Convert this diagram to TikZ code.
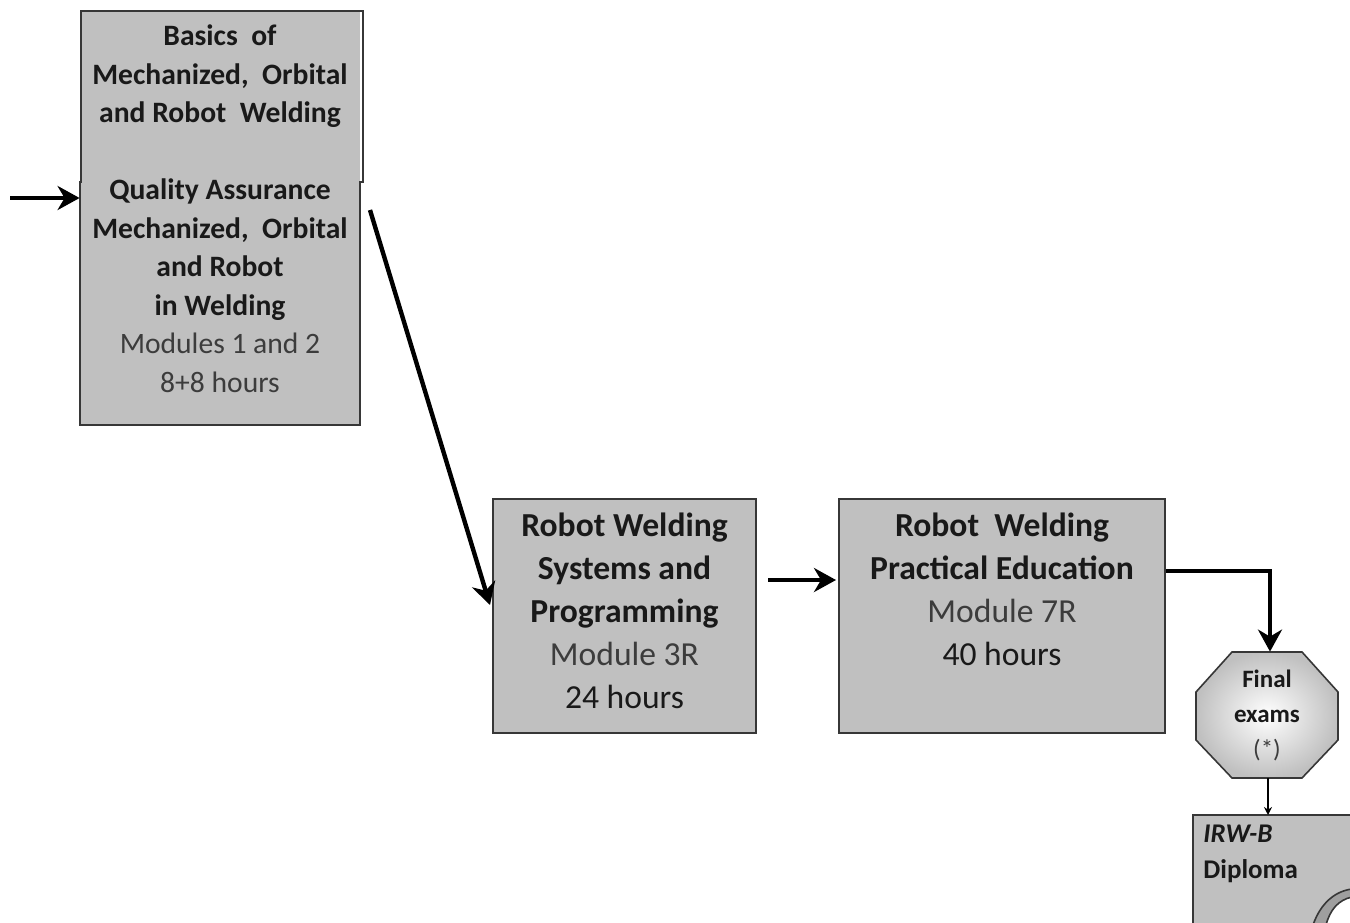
\documentclass[tikz,border=0pt]{standalone}
\usepackage{fontspec}
\setmainfont{Carlito}
\usetikzlibrary{arrows.meta,calc,shadings}
\definecolor{boxfill}{RGB}{192,192,192}
\definecolor{boxline}{RGB}{55,55,55}
\definecolor{txtdark}{RGB}{25,25,25}
\definecolor{txtgray}{RGB}{60,60,60}
\tikzset{
  px/.style={x=0.5pt,y=-0.5pt},
  modbox/.style={fill=boxfill,draw=boxline,line width=1pt,inner sep=0pt,align=center,text=txtdark},
  bigarrow/.style={line width=2.2pt,-{Stealth[length=11pt,width=12pt,inset=3.5pt]}},
  thinarrow/.style={line width=0.8pt,-{Stealth[length=4pt,width=4pt]}},
}
\begin{document}
\begin{tikzpicture}[px]
\useasboundingbox (0,0) rectangle (1350,922);
\clip (0,0) rectangle (1350,922);
% top-left module box (fill only, outline drawn with its step)
\node[fill=boxfill,inner sep=0pt,minimum width=140pt,minimum height=207pt,align=center,
      text=txtdark,font=\fontsize{14.8}{19.25}\selectfont] (mod12) at (220,218)
  {\textbf{Basics\ \ of}\\ \textbf{Mechanized,\ \ Orbital}\\ \textbf{and Robot\ \ Welding}\\ \mbox{}\\
   \textbf{Quality Assurance}\\ \textbf{Mechanized,\ \ Orbital}\\ \textbf{and Robot}\\ \textbf{in Welding}\\
   {\color{txtgray}Modules 1 and 2}\\ {\color{txtgray}8+8 hours}\\[-10pt]\mbox{}};
\draw[boxline,line width=1pt]
  ([xshift=0.5pt]mod12.north west) -- ([xshift=1.5pt]mod12.north east)
  -- ([xshift=1.5pt,yshift=-85.5pt]mod12.north east) -- ([yshift=-85.5pt]mod12.north east)
  -- (mod12.south east) -- (mod12.south west)
  -- ([yshift=-85.5pt]mod12.north west) -- ([xshift=0.5pt,yshift=-85.5pt]mod12.north west) -- cycle;
% module 3R
\node[modbox,minimum width=131.5pt,minimum height=117pt,font=\fontsize{16.8}{21.5}\selectfont] (rw) at (624.5,616)
  {\textbf{Robot Welding}\\ \textbf{Systems and}\\ \textbf{Programming}\\
   {\color{txtgray}Module 3R}\\ 24 hours\\[-16pt]\mbox{}};
% module 7R
\node[modbox,minimum width=163pt,minimum height=117pt] (pe) at (1002,616) {};
\node[align=center,text=txtdark,font=\fontsize{16.8}{21.5}\selectfont,anchor=north] (petext) at (1002,506)
  {\textbf{Robot\ \ Welding}\\ \textbf{Practical Education}\\ {\color{txtgray}Module 7R}\\ 40 hours};
% final exams octagon
\shade[inner color=white,outer color=boxfill,draw=boxline,line width=0.8pt]
  (1232,652) -- (1302,652) -- (1338,692) -- (1338,740) -- (1302,778) -- (1232,778)
  -- (1196,740) -- (1196,692) -- cycle;
\node[minimum width=71pt,minimum height=63pt,inner sep=0pt,align=center,text=txtdark,
      font=\fontsize{12.5}{17.5}\selectfont] (exam) at (1267,715)
  {\textbf{Final}\\ \textbf{exams}\\ {\color{txtgray}(*)}};
% diploma
\fill[boxfill] (1193,815) -- (1352,815) -- (1352,889) .. controls (1336,891) and (1321,902) .. (1313,925) -- (1193,925) -- cycle;
\draw[boxline,line width=0.8pt] (1193,925) -- (1193,815) -- (1352,815);
\draw[boxline,line width=0.8pt,fill=gray!75] (1352,889) .. controls (1336,891) and (1321,902) .. (1313,925)
  -- (1326,925) .. controls (1330,910) and (1338,900) .. (1352,897) -- cycle;
\node[anchor=north west,inner sep=0pt,align=left,text=txtdark,font=\fontsize{13.5}{18}\selectfont] (dip) at (1203,825)
  {\textbf{\textit{IRW-B}}\\ \textbf{Diploma}};
% connectors
\coordinate (start) at (10,198);
\draw[bigarrow] (start) -- (start -| mod12.west);
\coordinate (d1) at (370,210);
\draw[bigarrow] (d1) -- ([yshift=5.5pt,xshift=-1pt]rw.west);
\coordinate (m1) at (768,580);
\draw[bigarrow] (m1) -- ([xshift=-1pt]m1 -| pe.west);
\draw[bigarrow] ([yshift=22.5pt]pe.east) -| ([xshift=1.5pt]exam.north);
\draw[thinarrow] ([xshift=0.5pt]exam.south) -- ([xshift=0.5pt]exam.south |- 0,815);
\end{tikzpicture}
\end{document}
